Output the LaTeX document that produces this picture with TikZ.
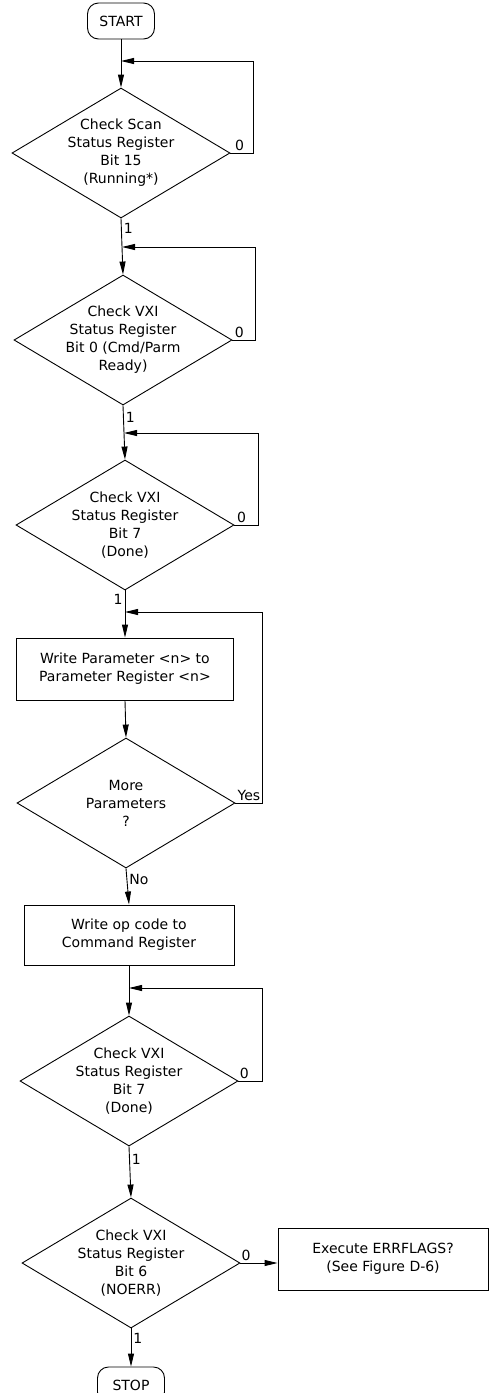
\documentclass[tikz,border=0pt]{standalone}
\usepackage{fontspec}
\setmainfont{DejaVu Sans}
\usetikzlibrary{shapes.geometric,arrows.meta}

\begin{document}
\begin{tikzpicture}[
  x=1pt, y=-1pt, line width=0.9pt,
  >={Triangle[length=13pt,width=6pt]},
  every node/.style={font=\fontsize{14}{18}\selectfont},
  term/.style={draw, rounded corners=11pt, minimum width=67pt, minimum height=36pt, inner sep=0pt},
  test/.style={draw, diamond, inner sep=0pt, minimum width=218pt, minimum height=130pt},
  dtext/.style={align=center, inner sep=0pt},
  stepbox/.style={draw, align=center, inner sep=0pt, minimum width=217pt, minimum height=62pt},
  tag/.style={inner sep=2pt}
]
  \useasboundingbox (0,0) rectangle (489,1393);

  \node[term] (start) at (121,21) {START};
  \node[test] (d1) at (121,153) {};
  \node[dtext] (d1t) at (d1) {Check Scan\\Status Register\\Bit 15\\(Running*)};
  \node[test] (d2) at (123,340) {};
  \node[dtext] (d2t) at (d2) {Check VXI\\Status Register\\Bit 0 (Cmd/Parm\\Ready)};
  \node[test] (d3) at (125,525) {};
  \node[dtext] (d3t) at (d3) {Check VXI\\Status Register\\Bit 7\\(Done)};
  \node[stepbox] (wpar) at (125,669) {Write Parameter <n> to\\Parameter Register <n>};
  \node[test] (d4) at (126,803) {};
  \node[dtext] (d4t) at (d4) {More\\Parameters\\?};
  \node[stepbox, minimum width=210pt, minimum height=60pt] (wop) at (129,935) {Write op code to\\Command Register};
  \node[test] (d5) at (129,1081) {};
  \node[dtext] (d5t) at (d5) {Check VXI\\Status Register\\Bit 7\\(Done)};
  \node[test] (d6) at (131,1263) {};
  \node[dtext] (d6t) at (d6) {Check VXI\\Status Register\\Bit 6\\(NOERR)};
  \node[stepbox, minimum width=210pt] (err) at (383,1259) {Execute ERRFLAGS?\\(See Figure D-6)};
  \node[term] (stop) at (131,1385) {STOP};

  % merge points of the loops
  \coordinate (m1) at (121,61);
  \coordinate (m2) at (122,247);
  \coordinate (m3) at (124,433);
  \coordinate (m4) at (125,612);
  \coordinate (m5) at (129,988);

  \draw (start) -- (m1);
  \draw[->] (m1) -- (d1.north);
  \draw[->] (d1.east) -- node[tag, above, pos=0.4]{0} ++(23,0) |- (m1);
  \draw (d1.south) -- node[tag, right, pos=0.35]{1} (m2);
  \draw[->] (m2) -- (d2.north);
  \draw[->] (d2.east) -- node[tag, above, pos=0.3]{0} ++(23,0) |- (m2);
  \draw (d2.south) -- node[tag, right, pos=0.45]{1} (m3);
  \draw[->] (m3) -- (d3.north);
  \draw[->] (d3.east) -- node[tag, above, pos=0.3]{0} ++(24,0) |- (m3);
  \draw (d3.south) -- node[tag, left, pos=0.4]{1} (m4);
  \draw[->] (m4) -- (wpar.north);
  \draw[->] (wpar.south) -- (d4.north);
  \draw[->] (d4.east) -- node[tag, above, pos=0.5]{Yes} ++(27,0) |- (m4);
  \draw[->] (d4.south) -- node[tag, right, pos=0.3]{No} (wop.north);
  \draw (wop.south) -- (m5);
  \draw[->] (m5) -- (d5.north);
  \draw[->] (d5.east) -- node[tag, above, pos=0.25]{0} ++(24,0) |- (m5);
  \draw[->] (d5.south) -- node[tag, right, pos=0.26]{1} (d6.north);
  \draw[->] (d6.east) -- node[tag, above, pos=0.15]{0} (d6.east -| err.west);
  \draw[->] (d6.south) -- node[tag, right, pos=0.25]{1} (stop.north);
\end{tikzpicture}
\end{document}
